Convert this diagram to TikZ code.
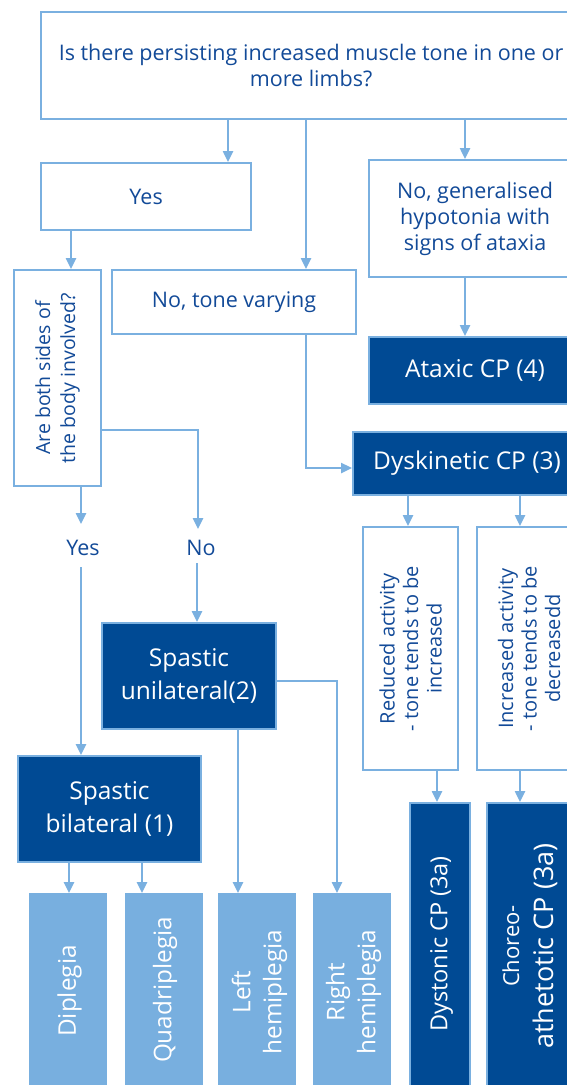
\documentclass[tikz,border=0pt]{standalone}
\usepackage{fontspec}
\setmainfont{Open Sans}
\usetikzlibrary{arrows.meta}
\definecolor{lineblue}{RGB}{122,176,224}
\definecolor{darkfill}{RGB}{0,74,148}
\definecolor{lightfill}{RGB}{120,175,223}
\definecolor{textblue}{RGB}{18,74,152}
\tikzset{
  wbox/.style={draw=lineblue, line width=2.2pt, fill=white, text=textblue, align=center, inner sep=0pt, anchor=north west},
  dbox/.style={draw=lineblue, line width=2pt, fill=darkfill, text=white, align=center, inner sep=0pt, anchor=north west},
  lbox/.style={fill=lightfill, text=white, align=center, inner sep=0pt, anchor=north west},
  conn/.style={draw=lineblue, line width=2.4pt},
  arr/.style={conn, -{Triangle[length=11pt,width=10pt]}},
  fa/.style={font=\fontsize{21.5}{26}\selectfont},
  fb/.style={font=\fontsize{24.5}{33}\selectfont},
  fc/.style={font=\fontsize{20}{23.5}\selectfont},
  fd/.style={font=\fontsize{24.3}{31}\selectfont},
  lbl/.style={text=textblue, font=\fontsize{21.5}{26}\selectfont, inner sep=0pt},
}
\begin{document}
\begin{tikzpicture}[x=1pt,y=-1pt]
\useasboundingbox (0,0) rectangle (567,1085);
% boxes
\node[wbox, fa, minimum width=540, minimum height=107] (top) at (40,11) {Is there persisting increased muscle tone in one or\\more limbs?};
\node[wbox, fa, minimum width=210, minimum height=67] (yes) at (40,162) {Yes};
\node[wbox, fa, minimum width=212, minimum height=117] (gen) at (368,159) {No, generalised\\hypotonia with\\signs of ataxia};
\node[wbox, minimum width=87, minimum height=216] (quest) at (13,269) {};
\node[text=textblue, font=\fontsize{19.5}{25}\selectfont, align=center, rotate=90] (questtxt) at (quest.center) {Are both sides of\\the body involved?};
\node[wbox, fa, minimum width=244, minimum height=64] (tone) at (111,269) {No, tone varying};
\node[dbox, fb, minimum width=212, minimum height=67] (ataxic) at (368,336) {Ataxic CP (4)};
\node[dbox, fb, minimum width=228, minimum height=63] (dysk) at (352,431) {Dyskinetic CP (3)};
\node[wbox, minimum width=95, minimum height=243] (red) at (362,526) {};
\node[text=textblue, fc, align=center, rotate=90] (redtxt) at (red.center) {Reduced activity\\- tone tends to be\\increased};
\node[wbox, minimum width=104, minimum height=243] (inc) at (476,526) {};
\node[text=textblue, fc, align=center, rotate=90] (inctxt) at (inc.center) {Increased activity\\- tone tends to be\\decreasedd};
\node[dbox, fb, minimum width=174, minimum height=106] (uni) at (101,622) {Spastic\\unilateral(2)};
\node[dbox, fb, minimum width=183, minimum height=106] (bil) at (17,755) {Spastic\\bilateral (1)};
\node[lbox, minimum width=78, minimum height=197] (dip) at (29,893) {};
\node[lbox, minimum width=78, minimum height=197] (quad) at (125,893) {};
\node[lbox, minimum width=78, minimum height=197] (lhem) at (218,893) {};
\node[lbox, minimum width=78, minimum height=197] (rhem) at (313,893) {};
\node[dbox, minimum width=60, minimum height=286] (dyst) at (409,802) {};
\node[dbox, minimum width=86, minimum height=288] (chor) at (486,802) {};
\node[text=white, fd, align=center, rotate=90] (diptxt) at (69.5,991) {Diplegia};
\node[text=white, fd, align=center, rotate=90] (quadtxt) at (165,990) {Quadriplegia};
\node[text=white, fd, align=center, rotate=90] (lhemtxt) at (259.5,992) {Left\\hemiplegia};
\node[text=white, fd, align=center, rotate=90] (rhemtxt) at (353.5,992) {Right\\hemiplegia};
\node[text=white, font=\fontsize{23.5}{30}\selectfont, align=center, rotate=90] (dysttxt) at (441.5,944) {Dystonic CP (3a)};
\node[text=white, align=center, rotate=90, font=\fontsize{22}{34}\selectfont] (chortxt) at (530,946) {Choreo-\\{\fontsize{27}{34}\selectfont athetotic CP (3a)}};
% labels
\node[lbl] (ylab) at (83,548) {Yes};
\node[lbl] (nlab) at (201,548) {No};
% helper coordinates
\coordinate (xa) at (228,0);
\coordinate (xb) at (306,0);
\coordinate (xc) at (465,0);
\coordinate (xd) at (71,0);
\coordinate (xe) at (81,0);
\coordinate (xf) at (198,0);
\coordinate (xn) at (197,0);
\coordinate (xg) at (408,0);
\coordinate (xh) at (520,0);
\coordinate (xi) at (437,0);
\coordinate (xj) at (69,0);
\coordinate (xk) at (142,0);
\coordinate (xl) at (238,0);
\coordinate (xm) at (337,0);
\coordinate (ya) at (0,468);
\coordinate (yb) at (0,430);
\coordinate (yc) at (0,681);
\coordinate (ye) at (0,524);
\coordinate (yf) at (0,529);
\coordinate (yg) at (0,567);
\coordinate (yh) at (0,563);
% connectors
\draw[arr] (top.south -| xa) -- (yes.north -| xa);
\draw[arr] (top.south -| xb) -- (tone.north -| xb);
\draw[arr] (top.south -| xc) -- (gen.north -| xc);
\draw[arr] (yes.south -| xd) -- (quest.north -| xd);
\draw[arr] (gen.south -| xc) -- (ataxic.north -| xc);
\draw[arr] (tone.south -| xb) |- (dysk.west |- ya);
\draw[arr] (quest.south -| xe) -- (ye -| xe);
\draw[arr] (quest.east |- yb) -| (yf -| xf);
\draw[arr] (yg -| xe) -- (bil.north -| xe);
\draw[arr] (yh -| xn) -- (uni.north -| xn);
\draw[arr] (dysk.south -| xg) -- (red.north -| xg);
\draw[arr] (dysk.south -| xh) -- (inc.north -| xh);
\draw[arr] (red.south -| xi) -- (dyst.north -| xi);
\draw[arr] (inc.south -| xh) -- (chor.north -| xh);
\draw[arr] (bil.south -| xj) -- (dip.north -| xj);
\draw[arr] (bil.south -| xk) -- (quad.north -| xk);
\draw[arr] (uni.south -| xl) -- (lhem.north -| xl);
\draw[arr] (uni.east |- yc) -| (rhem.north -| xm);
\end{tikzpicture}
\end{document}
